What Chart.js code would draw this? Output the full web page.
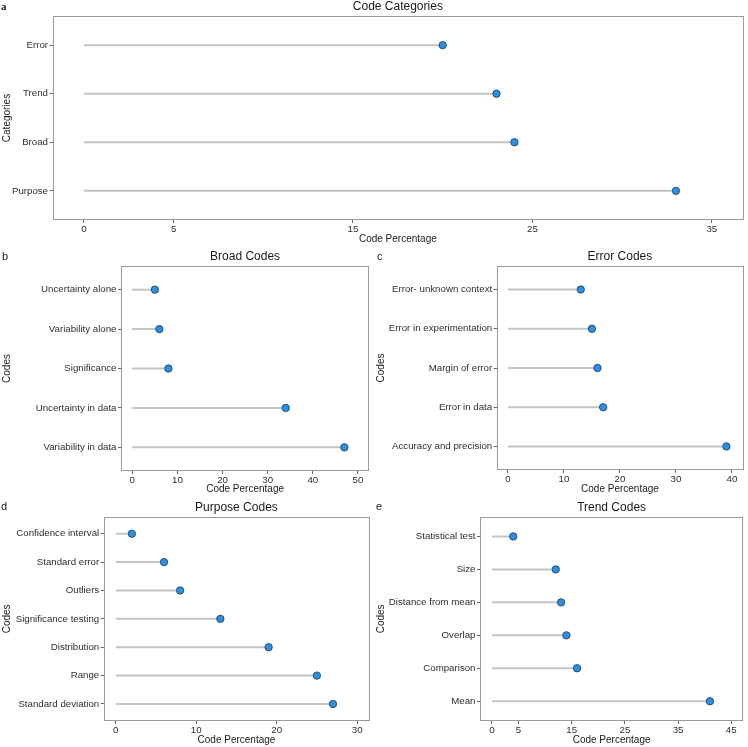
<!DOCTYPE html>
<html>
<head>
<meta charset="utf-8">
<script src="https://cdn.jsdelivr.net/npm/chart.js@4.4.1/dist/chart.umd.min.js"></script>
<style>
  body { margin: 0; background: #fff; }
  #wrap { position: relative; width: 748px; height: 747px; overflow: hidden; }
  canvas { position: absolute; }
</style>
</head>
<body>
<div id="wrap">
  <canvas id="chartA" width="748" height="250" style="left:0;top:0"></canvas>
  <canvas id="chartB" width="374" height="250" style="left:0;top:250px"></canvas>
  <canvas id="chartC" width="374" height="250" style="left:374px;top:250px"></canvas>
  <canvas id="chartD" width="374" height="257" style="left:0;top:490px"></canvas>
  <canvas id="chartE" width="374" height="257" style="left:374px;top:490px"></canvas>
</div>
<script>
// panel a
const categoryLabels = ['Error', 'Trend', 'Broad', 'Purpose'];
const categoryValues = [20, 23, 24, 33];
const categoryTicks = [0, 5, 15, 25, 35];

// panel b
const broadLabels = ['Uncertainty alone', 'Variability alone', 'Significance', 'Uncertainty in data', 'Variability in data'];
const broadValues = [5, 6, 8, 34, 47];
const broadTicks = [0, 10, 20, 30, 40, 50];

// panel c
const errorLabels = ['Error- unknown context', 'Error in experimentation', 'Margin of error', 'Error in data', 'Accuracy and precision'];
const errorValues = [13, 15, 16, 17, 39];
const errorTicks = [0, 10, 20, 30, 40];

// panel d
const purposeLabels = ['Confidence interval', 'Standard error', 'Outliers', 'Significance testing', 'Distribution', 'Range', 'Standard deviation'];
const purposeValues = [2, 6, 8, 13, 19, 25, 27];
const purposeTicks = [0, 10, 20, 30];

// panel e
const trendLabels = ['Statistical test', 'Size', 'Distance from mean', 'Overlap', 'Comparison', 'Mean'];
const trendValues = [4, 12, 13, 14, 16, 41];
const trendTicks = [0, 5, 15, 25, 35, 45];

Chart.defaults.font.family = '"Liberation Sans", Arial, sans-serif';
Chart.defaults.color = '#333';

const FONT = '"Liberation Sans", Arial, sans-serif';

// frame, panel title and panel letter
const panelText = {
    id: 'panelText',
    afterDraw(chart, args, o) {
        const ctx = chart.ctx;
        const a = chart.chartArea;
        ctx.save();
        ctx.strokeStyle = '#9a9a9a';
        ctx.lineWidth = 1;
        ctx.strokeRect(Math.round(a.left) + 0.5, Math.round(a.top) + 0.5,
            Math.round(a.width) - 1, Math.round(a.height) - 1);
        ctx.fillStyle = '#1a1a1a';
        ctx.textBaseline = 'middle';
        ctx.textAlign = 'center';
        ctx.font = '12px ' + FONT;
        ctx.fillText(o.title, (a.left + a.right) / 2, a.top - 9.5);
        ctx.textAlign = 'left';
        ctx.font = o.letterFont;
        ctx.fillText(o.letter, o.letterX, o.letterY);
        ctx.restore();
    }
};

function makeLollipop(id, cfg) {
    const canvas = document.getElementById(id);
    const n = cfg.labels.length;

    const stems = cfg.values.map((v, i) => ({
        type: 'scatter',
        data: [{x: 0, y: i}, {x: v, y: i}],
        showLine: true,
        borderColor: '#c4c4c4',
        borderWidth: 2,
        pointRadius: 0,
        order: 2
    }));

    const dots = {
        type: 'scatter',
        data: cfg.values.map((v, i) => ({x: v, y: i})),
        pointRadius: 3.7,
        pointBackgroundColor: '#2b8fe3',
        pointBorderColor: '#1c3854',
        pointBorderWidth: 0.8,
        order: 1
    };

    return new Chart(canvas, {
        type: 'scatter',
        data: {datasets: [dots].concat(stems)},
        options: {
            responsive: false,
            animation: false,
            events: [],
            layout: {
                padding: {
                    top: cfg.box.top,
                    right: canvas.width - cfg.box.right,
                    left: 0,
                    bottom: 0
                }
            },
            scales: {
                x: {
                    type: 'linear',
                    min: cfg.xMin,
                    max: cfg.xMax,
                    afterBuildTicks: (s) => { s.ticks = cfg.ticks.map(v => ({value: v})); },
                    afterFit: (s) => { s.height = canvas.height - cfg.box.bottom; },
                    border: {display: false},
                    grid: {drawOnChartArea: false, drawTicks: true, tickLength: 3, tickColor: '#666'},
                    ticks: {font: {size: 9.7}, color: '#2e2e2e', padding: 1, maxRotation: 0},
                    title: {
                        display: true,
                        text: 'Code Percentage',
                        font: {size: 10},
                        color: '#1a1a1a',
                        padding: {top: 0, bottom: cfg.xTitlePad}
                    }
                },
                y: {
                    type: 'linear',
                    reverse: true,
                    min: -0.6,
                    max: n - 0.4,
                    afterBuildTicks: (s) => { s.ticks = cfg.labels.map((_, i) => ({value: i})); },
                    afterFit: (s) => { s.width = cfg.box.left; },
                    border: {display: false},
                    grid: {drawOnChartArea: false, drawTicks: true, tickLength: 3, tickColor: '#666'},
                    ticks: {
                        font: {size: 9.7},
                        color: '#2e2e2e',
                        padding: 1.5,
                        callback: (v) => cfg.labels[v]
                    },
                    title: {
                        display: true,
                        text: cfg.yTitle,
                        font: {size: 10},
                        color: '#1a1a1a',
                        padding: {top: 1, bottom: 0}
                    }
                }
            },
            plugins: {
                legend: {display: false},
                tooltip: {enabled: false},
                panelText: {
                    title: cfg.title,
                    letter: cfg.letter,
                    letterFont: cfg.letterFont || ('11px ' + FONT),
                    letterX: cfg.letterX,
                    letterY: cfg.letterY
                }
            }
        },
        plugins: [panelText]
    });
}

makeLollipop('chartA', {
    title: 'Code Categories', letter: 'a', letterFont: 'bold 11px "Liberation Serif", serif',
    letterX: 1, letterY: 7,
    labels: categoryLabels, values: categoryValues, ticks: categoryTicks,
    xMin: -1.75, xMax: 36.75, yTitle: 'Categories',
    box: {left: 52.5, top: 16, right: 745.7, bottom: 220}, xTitlePad: 5
});

makeLollipop('chartB', {
    title: 'Broad Codes', letter: 'b', letterX: 2, letterY: 7,
    labels: broadLabels, values: broadValues, ticks: broadTicks,
    xMin: -2.5, xMax: 52.5, yTitle: 'Codes',
    box: {left: 121, top: 16, right: 371, bottom: 221}, xTitlePad: 5
});

makeLollipop('chartC', {
    title: 'Error Codes', letter: 'c', letterX: 3, letterY: 7,
    labels: errorLabels, values: errorValues, ticks: errorTicks,
    xMin: -2, xMax: 42, yTitle: 'Codes',
    box: {left: 122.7, top: 16, right: 371.7, bottom: 220}, xTitlePad: 5
});

makeLollipop('chartD', {
    title: 'Purpose Codes', letter: 'd', letterX: 1, letterY: 17,
    labels: purposeLabels, values: purposeValues, ticks: purposeTicks,
    xMin: -1.5, xMax: 31.5, yTitle: 'Codes',
    box: {left: 103.7, top: 26.7, right: 370.7, bottom: 231}, xTitlePad: 1
});

makeLollipop('chartE', {
    title: 'Trend Codes', letter: 'e', letterX: 2, letterY: 17,
    labels: trendLabels, values: trendValues, ticks: trendTicks,
    xMin: -2.25, xMax: 47.25, yTitle: 'Codes',
    box: {left: 106, top: 26.7, right: 371.7, bottom: 231}, xTitlePad: 1
});
</script>
</body>
</html>
